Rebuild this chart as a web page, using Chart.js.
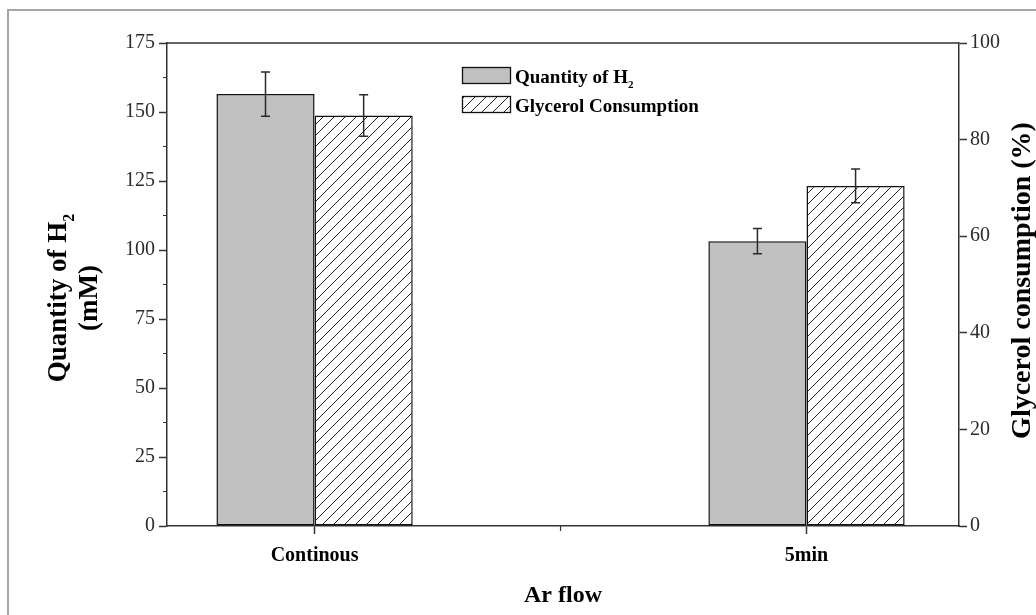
<!DOCTYPE html>
<html>
<head>
<meta charset="utf-8">
<title>H2 quantity and glycerol consumption vs Ar flow</title>
<script src="https://cdn.jsdelivr.net/npm/chart.js@4.4.1/dist/chart.umd.min.js"></script>
<style>
  html, body { margin: 0; padding: 0; background: #ffffff; }
  #wrap { width: 1036px; height: 615px; position: relative; }
</style>
</head>
<body>
<div id="wrap"><canvas id="chart" width="1036" height="615"></canvas></div>
<script>
// ---- data ----
const categories = ['Continous', '5min'];
const categoryPositions = [0, 1];
const h2Quantity = [156.5, 103.2];          // mM
const h2Error = [8.0, 4.6];
const glycerolConsumption = [85.0, 70.4];   // %
const glycerolError = [4.3, 3.5];
const xTickValues = [0, 0.5, 1];
const leftMinorTicks = [12.5, 37.5, 62.5, 87.5, 112.5, 137.5, 162.5];

const SERIF = "'Liberation Serif', 'Times New Roman', serif";
const AXIS = '#333333';

// diagonal hatch fill for the glycerol bars
function makeHatch() {
  const s = 11;
  const c = document.createElement('canvas');
  c.width = s; c.height = s;
  const g = c.getContext('2d');
  g.fillStyle = '#ffffff';
  g.fillRect(0, 0, s, s);
  g.strokeStyle = '#222222';
  g.lineWidth = 1;
  g.beginPath();
  g.moveTo(0, s); g.lineTo(s, 0);
  g.moveTo(-2, 2); g.lineTo(2, -2);
  g.moveTo(s - 2, s + 2); g.lineTo(s + 2, s - 2);
  g.stroke();
  return document.getElementById('chart').getContext('2d').createPattern(c, 'repeat');
}
const hatch = makeHatch();

// text with a '₂' subscript drawn smaller and lowered
function drawRich(ctx, text, x, y, size, align) {
  const parts = [];
  for (const ch of text) {
    const sub = ch === '₂';
    const t = sub ? '2' : ch;
    if (parts.length && parts[parts.length - 1].sub === sub) parts[parts.length - 1].t += t;
    else parts.push({ t, sub });
  }
  let total = 0;
  parts.forEach(p => {
    ctx.font = `bold ${p.sub ? Math.round(size * 0.58) : size}px ${SERIF}`;
    p.w = ctx.measureText(p.t).width;
    total += p.w;
  });
  let cx = align === 'center' ? x - total / 2 : x;
  ctx.textAlign = 'left';
  ctx.textBaseline = 'alphabetic';
  parts.forEach(p => {
    ctx.font = `bold ${p.sub ? Math.round(size * 0.58) : size}px ${SERIF}`;
    ctx.fillText(p.t, cx, p.sub ? y + size * 0.3 : y);
    cx += p.w;
  });
}

const decorations = {
  id: 'decorations',
  afterDatasetsDraw(chart) {
    const { ctx } = chart;
    // error bars
    chart.data.datasets.forEach((ds, i) => {
      const meta = chart.getDatasetMeta(i);
      const ys = chart.scales[ds.yAxisID];
      meta.data.forEach((bar, j) => {
        const v = ds.data[j].y, e = ds.errorBars[j];
        const yt = ys.getPixelForValue(v + e), yb = ys.getPixelForValue(v - e);
        ctx.save();
        ctx.strokeStyle = '#2a2a2a';
        ctx.lineWidth = 1.5;
        ctx.beginPath();
        ctx.moveTo(bar.x, yt); ctx.lineTo(bar.x, yb);
        ctx.moveTo(bar.x - 4.5, yt); ctx.lineTo(bar.x + 4.5, yt);
        ctx.moveTo(bar.x - 4.5, yb); ctx.lineTo(bar.x + 4.5, yb);
        ctx.stroke();
        ctx.restore();
      });
    });
  },
  afterDraw(chart) {
    const { ctx, chartArea: a, scales } = chart;
    ctx.save();
    // outer light frame
    ctx.strokeStyle = '#a6a6a6';
    ctx.lineWidth = 2;
    ctx.beginPath();
    ctx.moveTo(8, chart.height); ctx.lineTo(8, 10); ctx.lineTo(chart.width, 10);
    ctx.stroke();
    // top edge of the plot box
    ctx.strokeStyle = AXIS;
    ctx.lineWidth = 1.5;
    ctx.beginPath();
    ctx.moveTo(a.left, a.top); ctx.lineTo(a.right, a.top);
    ctx.stroke();
    // minor ticks
    ctx.lineWidth = 1.2;
    ctx.beginPath();
    leftMinorTicks.forEach(v => {
      const y = scales.y.getPixelForValue(v);
      ctx.moveTo(a.left - 4, y); ctx.lineTo(a.left, y);
    });
    const xm = scales.x.getPixelForValue(0.5);
    ctx.moveTo(xm, a.bottom); ctx.lineTo(xm, a.bottom + 5);
    ctx.stroke();

    // axis titles
    ctx.fillStyle = '#000';
    drawRich(ctx, 'Ar flow', (a.left + a.right) / 2, 602, 24, 'center');

    ctx.save();
    ctx.translate(0, 298);
    ctx.rotate(-Math.PI / 2);
    drawRich(ctx, 'Quantity of H₂', 0, 66, 27, 'center');
    drawRich(ctx, '(mM)', 0, 97, 27, 'center');
    ctx.restore();

    ctx.save();
    ctx.translate(1030, (a.top + a.bottom) / 2 - 4);
    ctx.rotate(-Math.PI / 2);
    drawRich(ctx, 'Glycerol consumption (%)', 0, 0, 28, 'center');
    ctx.restore();

    // legend
    const lx = a.left + 295, ly = a.top + 24;
    chart.data.datasets.forEach((ds, i) => {
      const by = ly + i * 29;
      ctx.fillStyle = ds.backgroundColor;
      ctx.fillRect(lx, by, 48, 16);
      ctx.strokeStyle = '#111';
      ctx.lineWidth = 1.3;
      ctx.strokeRect(lx + 0.5, by + 0.5, 48, 16);
      ctx.fillStyle = '#000';
      drawRich(ctx, ds.label, lx + 53, by + 15.5, 19, 'left');
    });
    ctx.restore();
  }
};

const tickFont = { family: SERIF, size: 20 };

new Chart(document.getElementById('chart'), {
  type: 'bar',
  data: {
    datasets: [
      {
        label: 'Quantity of H₂',
        data: categoryPositions.map((x, i) => ({ x, y: h2Quantity[i] })),
        errorBars: h2Error,
        yAxisID: 'y',
        backgroundColor: '#c0c0c0',
        borderColor: '#111111',
        borderWidth: 1.5,
        borderSkipped: false
      },
      {
        label: 'Glycerol Consumption',
        data: categoryPositions.map((x, i) => ({ x, y: glycerolConsumption[i] })),
        errorBars: glycerolError,
        yAxisID: 'y2',
        backgroundColor: hatch,
        borderColor: '#111111',
        borderWidth: 1.5,
        borderSkipped: false
      }
    ]
  },
  options: {
    responsive: false,
    devicePixelRatio: 1,
    animation: false,
    layout: { padding: { top: 43, left: 0, right: 0, bottom: 0 } },
    // the bar ruler spacing is the half-category tick step, so two adjacent bars fill ~0.4 of a category
    datasets: { bar: { barPercentage: 1, categoryPercentage: 0.798, grouped: true } },
    plugins: { legend: { display: false }, tooltip: { enabled: false } },
    scales: {
      x: {
        type: 'linear',
        min: -0.3,
        max: 1.31,
        offset: false,
        afterBuildTicks: s => { s.ticks = xTickValues.map(v => ({ value: v })); },
        afterFit: s => { s.height = 89; },
        grid: {
          offset: false,
          drawOnChartArea: false,
          drawTicks: true,
          tickLength: 8,
          tickWidth: 1.5,
          tickColor: c => (c.tick && c.tick.value === 0.5) ? 'rgba(0,0,0,0)' : AXIS
        },
        border: { display: true, color: AXIS, width: 1.5 },
        ticks: {
          autoSkip: false,
          maxRotation: 0,
          padding: 10,
          color: '#000',
          font: { family: SERIF, size: 20, weight: 'bold' },
          callback: v => {
            const k = categoryPositions.indexOf(v);
            return k >= 0 ? categories[k] : '';
          }
        }
      },
      y: {
        position: 'left',
        min: 0,
        max: 175,
        afterFit: s => { s.width = 167; },
        grid: { drawOnChartArea: false, tickLength: 8, tickWidth: 1.5, tickColor: AXIS },
        border: { display: true, color: AXIS, width: 1.5 },
        ticks: { stepSize: 25, padding: 4, color: '#2b2b2b', font: tickFont }
      },
      y2: {
        position: 'right',
        min: 0,
        max: 100,
        afterFit: s => { s.width = 77; },
        grid: { drawOnChartArea: false, tickLength: 8, tickWidth: 1.5, tickColor: AXIS },
        border: { display: true, color: AXIS, width: 1.5 },
        ticks: { stepSize: 20, padding: 3, color: '#2b2b2b', font: tickFont }
      }
    }
  },
  plugins: [decorations]
});
</script>
</body>
</html>
